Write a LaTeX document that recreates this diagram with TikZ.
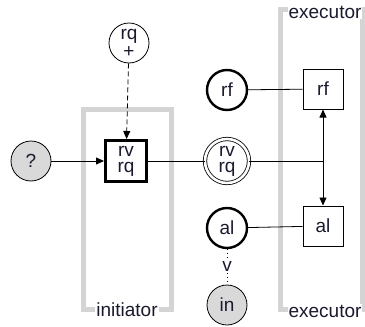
\documentclass[tikz,border=0pt]{standalone}
\usepackage{fontspec}
\setmainfont{Liberation Sans}
\usetikzlibrary{arrows.meta,positioning}
\definecolor{ink}{HTML}{1A1A2E}
\definecolor{framegray}{HTML}{D4D4D4}
\definecolor{placegray}{HTML}{D9D9D9}

\begin{document}
\begin{tikzpicture}[
    x=1pt, y=-1pt,
    every node/.style={text=ink, font=\fontsize{19}{16}\selectfont},
    frame/.style={
        rectangle,
        draw=framegray,
        line width=5pt
    },
    framelabel/.style={fill=white, inner sep=1pt},
    place/.style={
        circle,
        draw=black,
        minimum size=40pt,
        inner sep=0pt,
        line width=0.8pt,
        align=center
    },
    boldplace/.style={place, line width=2.4pt},
    grayplace/.style={place, fill=placegray},
    dblplace/.style={place, minimum size=44pt, double, double distance=2.6pt},
    trans/.style={
        rectangle,
        draw=black,
        minimum size=40pt,
        inner sep=0pt,
        line width=1pt,
        align=center
    },
    boldtrans/.style={trans, line width=3pt},
    link/.style={line width=0.8pt},
    arrow/.style={link, -{Triangle[length=8pt,width=7pt]}}
]
\useasboundingbox (0,0) rectangle (365,327);

% Frames
\node[frame, minimum width=88pt, minimum height=200pt] (initframe) at (127,209) {};
\node[frame, minimum width=82pt, minimum height=300pt] (execframe) at (321,159) {};
\node[framelabel] (initlabel) at (127,310) {initiator};
\node[framelabel] (exectop) at (325,12) {executor};
\node[framelabel] (execbot) at (325,311) {executor};

% Initiator side
\node[grayplace] (start) at (31,161) {?};
\node[place] (rqsrc) at (129,43) {rq\\[2pt]+};
\node[boldtrans, minimum size=41pt] (rvrq) at (126,161) {rv\\rq};

% Middle places
\node[dblplace] (rvrqplace) at (227,161) {rv\\rq};
\node[boldplace] (rfplace) at (227,90) {rf};
\node[boldplace] (alplace) at (227,228) {al};
\node[grayplace] (inplace) at (227,305) {in};

% Executor side
\node[trans] (rfbox) at (323,89) {rf};
\node[trans] (albox) at (323,226) {al};
\coordinate (junc) at (rfbox |- rvrqplace);

% Connectors
\draw[arrow] (start) -- (rvrq);
\draw[arrow, dash pattern=on 5pt off 3pt] (rqsrc) -- (rvrq);
\draw[link] (rvrq) -- (rvrqplace);
\draw[link] (rvrqplace) -- (junc);
\draw[arrow] (junc) -- (rfbox);
\draw[arrow] (junc) -- (albox);
\draw[link] (rfplace) -- (rfbox);
\draw[link] (alplace) -- (albox);
\draw[link, dash pattern=on 1pt off 3pt] (alplace) -- node[fill=white, inner sep=0.5pt] (vmark) {v} (inplace);

\end{tikzpicture}
\end{document}
